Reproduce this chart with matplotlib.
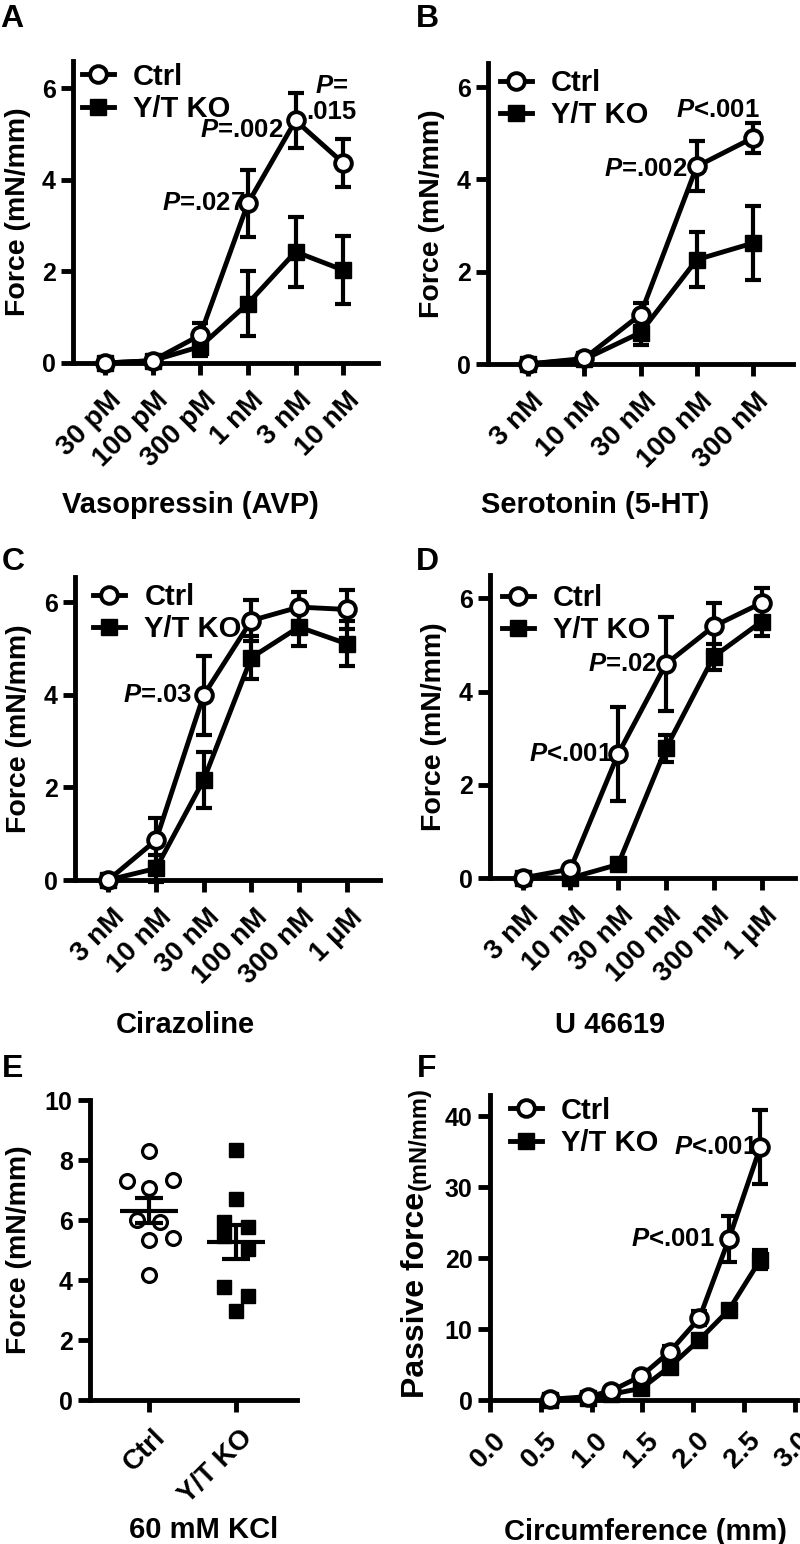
import numpy as np
import matplotlib.pyplot as plt
from matplotlib.transforms import ScaledTranslation

plt.rcParams['font.family'] = 'Liberation Sans'
plt.rcParams['font.weight'] = 'bold'
plt.rcParams['mathtext.fontset'] = 'custom'
plt.rcParams['mathtext.it'] = 'Liberation Sans:italic:bold'
plt.rcParams['mathtext.rm'] = 'Liberation Sans:bold'
plt.rcParams['axes.linewidth'] = 3.5
plt.rcParams['xtick.major.width'] = 3.5
plt.rcParams['ytick.major.width'] = 3.5
plt.rcParams['xtick.major.size'] = 8.5
plt.rcParams['ytick.major.size'] = 8.5
plt.rcParams['xtick.labelsize'] = 20
plt.rcParams['ytick.labelsize'] = 18
plt.rcParams['axes.labelweight'] = 'bold'

# A - vasopressin
avp_doses = ['30 pM', '100 pM', '300 pM', '1 nM', '3 nM', '10 nM']
avp_ctrl = [0.0, 0.05, 0.61, 3.49, 5.30, 4.37]
avp_ctrl_err = [0.0, 0.0, 0.26, 0.73, 0.60, 0.53]
avp_ko = [0.0, 0.05, 0.36, 1.30, 2.43, 2.03]
avp_ko_err = [0.0, 0.0, 0.20, 0.70, 0.76, 0.74]

# B - serotonin
ht_doses = ['3 nM', '10 nM', '30 nM', '100 nM', '300 nM']
ht_ctrl = [0.0, 0.12, 1.07, 4.28, 4.90]
ht_ctrl_err = [0.0, 0.0, 0.25, 0.54, 0.33]
ht_ko = [0.0, 0.10, 0.68, 2.26, 2.62]
ht_ko_err = [0.0, 0.0, 0.26, 0.59, 0.80]

# C - cirazoline
cir_doses = ['3 nM', '10 nM', '30 nM', '100 nM', '300 nM', '1 µM']
cir_ctrl = [0.0, 0.86, 3.99, 5.60, 5.89, 5.84]
cir_ctrl_err = [0.0, 0.47, 0.85, 0.45, 0.33, 0.43]
cir_ko = [0.0, 0.25, 2.16, 4.80, 5.46, 5.10]
cir_ko_err = [0.0, 0.30, 0.60, 0.46, 0.40, 0.48]

# D - U 46619
u46_doses = ['3 nM', '10 nM', '30 nM', '100 nM', '300 nM', '1 µM']
u46_ctrl = [0.0, 0.19, 2.66, 4.59, 5.40, 5.90]
u46_ctrl_err = [0.0, 0.0, 1.00, 1.01, 0.50, 0.33]
u46_ko = [0.0, 0.0, 0.29, 2.78, 4.75, 5.50]
u46_ko_err = [0.0, 0.0, 0.0, 0.29, 0.28, 0.30]

# E - 60 mM KCl, individual vessels
kcl_groups = ['Ctrl', 'Y/T KO']
kcl_ctrl = [8.30, 7.30, 7.33, 7.06, 6.00, 5.94, 5.33, 5.41, 4.17]
kcl_ctrl_dx = [0.0, -0.26, 0.27, 0.0, -0.14, 0.13, 0.0, 0.27, 0.0]
kcl_ko = [8.33, 6.69, 5.94, 5.78, 5.48, 5.02, 3.78, 3.47, 2.97]
kcl_ko_dx = [0.0, 0.0, -0.14, 0.14, -0.14, 0.14, -0.14, 0.14, 0.0]

# F - passive force vs circumference
circ = [0.59, 0.96, 1.19, 1.49, 1.77, 2.06, 2.35, 2.66]
pas_ctrl = [0.1, 0.47, 1.27, 3.4, 6.83, 11.55, 22.7, 35.7]
pas_ctrl_err = [0.0, 0.0, 0.3, 0.5, 0.8, 1.0, 3.2, 5.2]
pas_ko = [0.0, 0.3, 0.8, 1.65, 4.7, 8.5, 12.7, 19.8]
pas_ko_err = [0.0, 0.0, 0.0, 0.3, 0.5, 0.6, 0.5, 1.4]

W, H = 800, 1544
fig = plt.figure(figsize=(W / 100, H / 100), dpi=100)


def px_axes(l, r, t, b):
    return fig.add_axes([l / W, 1 - b / H, (r - l) / W, (b - t) / H])


def style(ax):
    ax.spines['top'].set_visible(False)
    ax.spines['right'].set_visible(False)
    ax.tick_params(direction='out', pad=4)


def rot_labels(ax, labels, dy=-7):
    ax.set_xticklabels(labels, rotation=45, ha='right', va='top', rotation_mode='anchor')
    shift = ScaledTranslation(3 / 100, dy / 100, fig.dpi_scale_trans)
    for lab in ax.get_xticklabels():
        lab.set_transform(lab.get_transform() + shift)


ctrl_kw = dict(color='black', lw=3.5, marker='o', ms=12, mfc='white', mec='black', mew=2.8)
ko_kw = dict(color='black', lw=3.5, marker='s', ms=11, mfc='black', mec='black')


def curve(ax, x, y, err, kw, z):
    x = np.asarray(x, float)
    y = np.asarray(y, float)
    err = np.asarray(err, float)
    m = err > 0
    ax.errorbar(x[m], y[m], yerr=err[m], fmt='none', ecolor='black', elinewidth=3,
                capsize=6, capthick=3, zorder=z, clip_on=False)
    line, = ax.plot(x, y, zorder=z + 0.5, clip_on=False, **kw)
    return line


def add_legend(ax, handles, bx, by):
    ax.legend(handles, ['Ctrl', 'Y/T KO'], loc='upper left', bbox_to_anchor=(bx, by),
              frameon=False, fontsize=21, handlelength=1.1, handletextpad=0.65,
              labelspacing=0.15, borderpad=0, borderaxespad=0, numpoints=1)


def p_text(ax, txt, xy, dx, dy, ha='right'):
    ax.annotate(txt, xy=xy, xytext=(dx, dy), textcoords='offset pixels',
                ha=ha, va='center', fontsize=18.5, zorder=3, linespacing=1.1,
                multialignment='center')


def dose_panel(ax, doses, ctrl, ctrl_err, ko, ko_err, ylim, xlim, xlabel, lab_xy):
    style(ax)
    x = np.arange(len(doses))
    h2 = curve(ax, x, ko, ko_err, ko_kw, 4)
    h1 = curve(ax, x, ctrl, ctrl_err, ctrl_kw, 6)
    ax.set_xlim(*xlim)
    ax.set_ylim(*ylim)
    ax.set_yticks([0, 2, 4, 6])
    ax.set_xticks(x)
    rot_labels(ax, doses)
    ax.set_ylabel('Force (mN/mm)', fontsize=20.5)
    ax.set_xlabel(xlabel, fontsize=21)
    ax.xaxis.set_label_coords(*lab_xy)
    ax.xaxis.label.set_va('center')
    return h1, h2


# panel A
axA = px_axes(73, 378, 61, 363)
hA = dose_panel(axA, avp_doses, avp_ctrl, avp_ctrl_err, avp_ko, avp_ko_err,
                (0, 6.6), (-0.67, 5.73), 'Vasopressin (AVP)', (0.384, -0.47))
axA.yaxis.set_label_coords(-0.137, 0.5)
add_legend(axA, hA, 0.03, 0.995)
p_text(axA, '$P$=.027', (3, avp_ctrl[3]), -3, 0)
p_text(axA, '$P$=.002', (4, avp_ctrl[4]), -12, -10)
p_text(axA, '$P$=\n.015', (5, avp_ctrl[5]), -12, 64, ha='center')

# panel B
axB = px_axes(488, 793, 63, 364)
hB = dose_panel(axB, ht_doses, ht_ctrl, ht_ctrl_err, ht_ko, ht_ko_err,
                (0, 6.52), (-0.71, 4.71), 'Serotonin (5-HT)', (0.351, -0.468))
axB.yaxis.set_label_coords(-0.141, 0.5)
add_legend(axB, hB, 0.04, 0.98)
p_text(axB, '$P$=.002', (3, ht_ctrl[3]), -10, -3)
p_text(axB, '$P$<.001', (4, ht_ctrl[4]), -35, 28, ha='center')

# panel C
axC = px_axes(75, 380, 577, 880)
hC = dose_panel(axC, cir_doses, cir_ctrl, cir_ctrl_err, cir_ko, cir_ko_err,
                (0, 6.54), (-0.70, 5.70), 'Cirazoline', (0.361, -0.479))
axC.yaxis.set_label_coords(-0.14, 0.5)
add_legend(axC, hC, 0.06, 0.98)
p_text(axC, '$P$=.03', (2, cir_ctrl[2]), -12, 0)

# panel D
axD = px_axes(490, 795, 575, 878)
hD = dose_panel(axD, u46_doses, u46_ctrl, u46_ctrl_err, u46_ko, u46_ko_err,
                (0, 6.5), (-0.68, 5.70), 'U 46619', (0.393, -0.485))
axD.yaxis.set_label_coords(-0.14, 0.5)
add_legend(axD, hD, 0.04, 0.97)
p_text(axD, '$P$=.02', (3, u46_ctrl[3]), -9, 0)
p_text(axD, '$P$<.001', (2, u46_ctrl[2]), -5, 0)

# panel E
axE = px_axes(90, 297, 1100, 1400)
style(axE)
for i, (vals, dx, mk) in enumerate([(kcl_ctrl, kcl_ctrl_dx, 'o'), (kcl_ko, kcl_ko_dx, 's')]):
    vals = np.asarray(vals)
    xs = i + np.asarray(dx)
    if mk == 'o':
        axE.plot(xs, vals, 'o', ms=10, mfc='white', mec='black', mew=2.3, zorder=3)
    else:
        axE.plot(xs, vals, 's', ms=9.5, mfc='black', mec='black', zorder=3)
    mean = vals.mean()
    sem = vals.std(ddof=1) / np.sqrt(len(vals))
    axE.hlines(mean, i - 0.33, i + 0.33, color='black', lw=3, zorder=4)
    axE.errorbar([i], [mean], yerr=[sem], fmt='none', ecolor='black', elinewidth=3,
                 capsize=10, capthick=3, zorder=4)
axE.set_xlim(-0.68, 1.70)
axE.set_ylim(0, 10)
axE.set_yticks([0, 2, 4, 6, 8, 10])
axE.set_xticks([0, 1])
rot_labels(axE, kcl_groups)
axE.set_ylabel('Force (mN/mm)', fontsize=20.5)
axE.yaxis.set_label_coords(-0.28, 0.5)
axE.set_xlabel('60 mM KCl', fontsize=21)
axE.xaxis.set_label_coords(0.551, -0.433)
axE.xaxis.label.set_va('center')

# panel F
axF = px_axes(490, 797, 1095, 1400)
style(axF)
hF2 = curve(axF, circ, pas_ko, pas_ko_err, ko_kw, 4)
hF1 = curve(axF, circ, pas_ctrl, pas_ctrl_err, ctrl_kw, 6)
axF.set_xlim(0, 3.02)
axF.set_ylim(0, 43)
axF.set_yticks([0, 10, 20, 30, 40])
fticks = np.arange(0, 3.01, 0.5)
axF.set_xticks(fticks)
rot_labels(axF, ['%.1f' % v for v in fticks], dy=-10)
axF.text(-0.192, 0.007, 'Passive force ', transform=axF.transAxes, rotation=90,
         rotation_mode='anchor', ha='left', va='bottom', fontsize=23)
axF.text(-0.192, 0.689, '(mN/mm)', transform=axF.transAxes, rotation=90,
         rotation_mode='anchor', ha='left', va='bottom', fontsize=17)
axF.set_xlabel('Circumference (mm)', fontsize=21)
axF.xaxis.set_label_coords(0.505, -0.433)
axF.xaxis.label.set_va('center')
add_legend(axF, (hF1, hF2), 0.065, 0.995)
p_text(axF, '$P$<.001', (circ[7], pas_ctrl[7]), -3, 0)
p_text(axF, '$P$<.001', (circ[6], pas_ctrl[6]), -14, 0)

# panel letters
for letter, x, y in [('A', 0, 27), ('B', 416, 27), ('C', 2, 570), ('D', 416, 570),
                     ('E', 2, 1077), ('F', 417, 1077)]:
    fig.text(x / W, 1 - y / H, letter, fontsize=23, weight='bold', ha='left', va='baseline')

fig.savefig('out.png', dpi=100)
